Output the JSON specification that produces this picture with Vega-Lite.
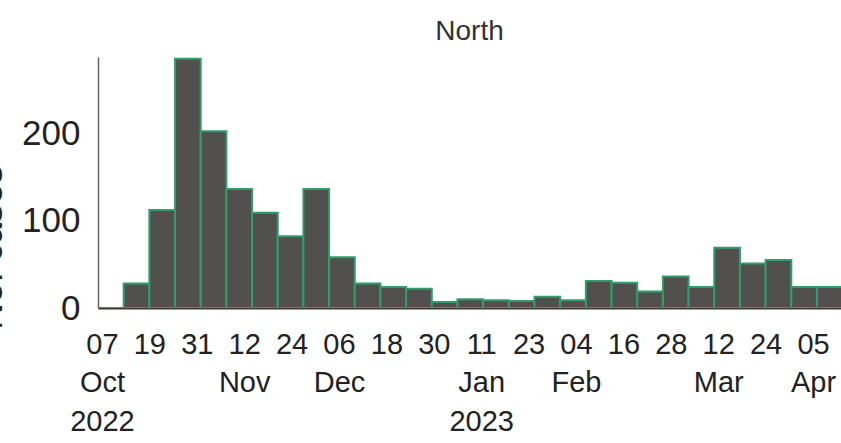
{
  "$schema": "https://vega.github.io/schema/vega-lite/v6.json",
  "autosize": "none",
  "width": 743,
  "height": 251,
  "padding": {"left": 98, "top": 57, "right": 0, "bottom": 135},
  "background": "white",
  "title": {
    "text": "North",
    "fontSize": 28,
    "font": "Liberation Sans",
    "fontWeight": "normal",
    "color": "#333333",
    "anchor": "middle",
    "frame": "group",
    "baseline": "alphabetic",
    "offset": -11
  },
  "data": {
    "values": [
      {"start": "2022-10-06T00:00:00Z", "end": "2022-10-12T12:00:00Z", "count": 0},
      {"start": "2022-10-12T12:00:00Z", "end": "2022-10-19T00:00:00Z", "count": 28},
      {"start": "2022-10-19T00:00:00Z", "end": "2022-10-25T12:00:00Z", "count": 112},
      {"start": "2022-10-25T12:00:00Z", "end": "2022-11-01T00:00:00Z", "count": 285},
      {"start": "2022-11-01T00:00:00Z", "end": "2022-11-07T12:00:00Z", "count": 202},
      {"start": "2022-11-07T12:00:00Z", "end": "2022-11-14T00:00:00Z", "count": 136},
      {"start": "2022-11-14T00:00:00Z", "end": "2022-11-20T12:00:00Z", "count": 109},
      {"start": "2022-11-20T12:00:00Z", "end": "2022-11-27T00:00:00Z", "count": 82},
      {"start": "2022-11-27T00:00:00Z", "end": "2022-12-03T12:00:00Z", "count": 136},
      {"start": "2022-12-03T12:00:00Z", "end": "2022-12-10T00:00:00Z", "count": 58},
      {"start": "2022-12-10T00:00:00Z", "end": "2022-12-16T12:00:00Z", "count": 28},
      {"start": "2022-12-16T12:00:00Z", "end": "2022-12-23T00:00:00Z", "count": 24},
      {"start": "2022-12-23T00:00:00Z", "end": "2022-12-29T12:00:00Z", "count": 22},
      {"start": "2022-12-29T12:00:00Z", "end": "2023-01-05T00:00:00Z", "count": 7},
      {"start": "2023-01-05T00:00:00Z", "end": "2023-01-11T12:00:00Z", "count": 10},
      {"start": "2023-01-11T12:00:00Z", "end": "2023-01-18T00:00:00Z", "count": 9},
      {"start": "2023-01-18T00:00:00Z", "end": "2023-01-24T12:00:00Z", "count": 8},
      {"start": "2023-01-24T12:00:00Z", "end": "2023-01-31T00:00:00Z", "count": 13},
      {"start": "2023-01-31T00:00:00Z", "end": "2023-02-06T12:00:00Z", "count": 9},
      {"start": "2023-02-06T12:00:00Z", "end": "2023-02-13T00:00:00Z", "count": 31},
      {"start": "2023-02-13T00:00:00Z", "end": "2023-02-19T12:00:00Z", "count": 29},
      {"start": "2023-02-19T12:00:00Z", "end": "2023-02-26T00:00:00Z", "count": 19},
      {"start": "2023-02-26T00:00:00Z", "end": "2023-03-04T12:00:00Z", "count": 36},
      {"start": "2023-03-04T12:00:00Z", "end": "2023-03-11T00:00:00Z", "count": 24},
      {"start": "2023-03-11T00:00:00Z", "end": "2023-03-17T12:00:00Z", "count": 69},
      {"start": "2023-03-17T12:00:00Z", "end": "2023-03-24T00:00:00Z", "count": 51},
      {"start": "2023-03-24T00:00:00Z", "end": "2023-03-30T12:00:00Z", "count": 55},
      {"start": "2023-03-30T12:00:00Z", "end": "2023-04-06T00:00:00Z", "count": 24},
      {"start": "2023-04-06T00:00:00Z", "end": "2023-04-12T12:00:00Z", "count": 24}
    ]
  },
  "mark": {"type": "bar", "fill": "#524f4f", "stroke": "#2f9e6b", "strokeWidth": 2, "clip": true},
  "encoding": {
    "x": {
      "field": "start",
      "type": "temporal",
      "scale": {
        "type": "utc",
        "domain": [
          {"year": 2022, "month": 10, "date": 6, "utc": true},
          {"year": 2023, "month": 4, "date": 12, "hours": 2, "utc": true}
        ]
      },
      "axis": {
        "title": null,
        "values": [
          {"year": 2022, "month": 10, "date": 7, "utc": true},
          {"year": 2022, "month": 10, "date": 19, "utc": true},
          {"year": 2022, "month": 10, "date": 31, "utc": true},
          {"year": 2022, "month": 11, "date": 12, "utc": true},
          {"year": 2022, "month": 11, "date": 24, "utc": true},
          {"year": 2022, "month": 12, "date": 6, "utc": true},
          {"year": 2022, "month": 12, "date": 18, "utc": true},
          {"year": 2022, "month": 12, "date": 30, "utc": true},
          {"year": 2023, "month": 1, "date": 11, "utc": true},
          {"year": 2023, "month": 1, "date": 23, "utc": true},
          {"year": 2023, "month": 2, "date": 4, "utc": true},
          {"year": 2023, "month": 2, "date": 16, "utc": true},
          {"year": 2023, "month": 2, "date": 28, "utc": true},
          {"year": 2023, "month": 3, "date": 12, "utc": true},
          {"year": 2023, "month": 3, "date": 24, "utc": true},
          {"year": 2023, "month": 4, "date": 5, "utc": true}
        ],
        "labelExpr": "[utcFormat(datum.value, '%d'), utcdate(datum.value) <= 12 ? utcFormat(datum.value, '%b') : '', (utcdate(datum.value) <= 12 && (utcmonth(datum.value) == 0 || utcmonth(datum.value) == 9)) ? utcFormat(datum.value, '%Y') : '']",
        "labelFont": "Liberation Sans",
        "labelFontSize": 29,
        "labelColor": "#222222",
        "labelLineHeight": 38.5,
        "labelBaseline": "top",
        "labelAlign": "center",
        "labelOverlap": false,
        "labelFlush": false,
        "labelBound": false,
        "labelPadding": 22,
        "ticks": false,
        "tickSize": 0,
        "grid": false,
        "domainColor": "#3a3a3a",
        "domainWidth": 2
      }
    },
    "x2": {"field": "end"},
    "y": {
      "field": "count",
      "type": "quantitative",
      "scale": {"domain": [0, 287], "nice": false, "zero": true},
      "axis": {
        "title": "No. cases",
        "titleFont": "Liberation Sans",
        "titleFontSize": 37,
        "titleFontWeight": "normal",
        "titleColor": "#222222",
        "titleAngle": -90,
        "titleX": -97,
        "titleY": 190,
        "titleAlign": "center",
        "titleBaseline": "alphabetic",
        "values": [0, 100, 200],
        "labelFont": "Liberation Sans",
        "labelFontSize": 35,
        "labelColor": "#222222",
        "labelPadding": 18,
        "labelBaseline": "middle",
        "ticks": false,
        "tickSize": 0,
        "grid": false,
        "domainColor": "#666666",
        "domainWidth": 1.5
      }
    },
    "y2": {"datum": 0}
  },
  "config": {
    "view": {"stroke": null}
  }
}
